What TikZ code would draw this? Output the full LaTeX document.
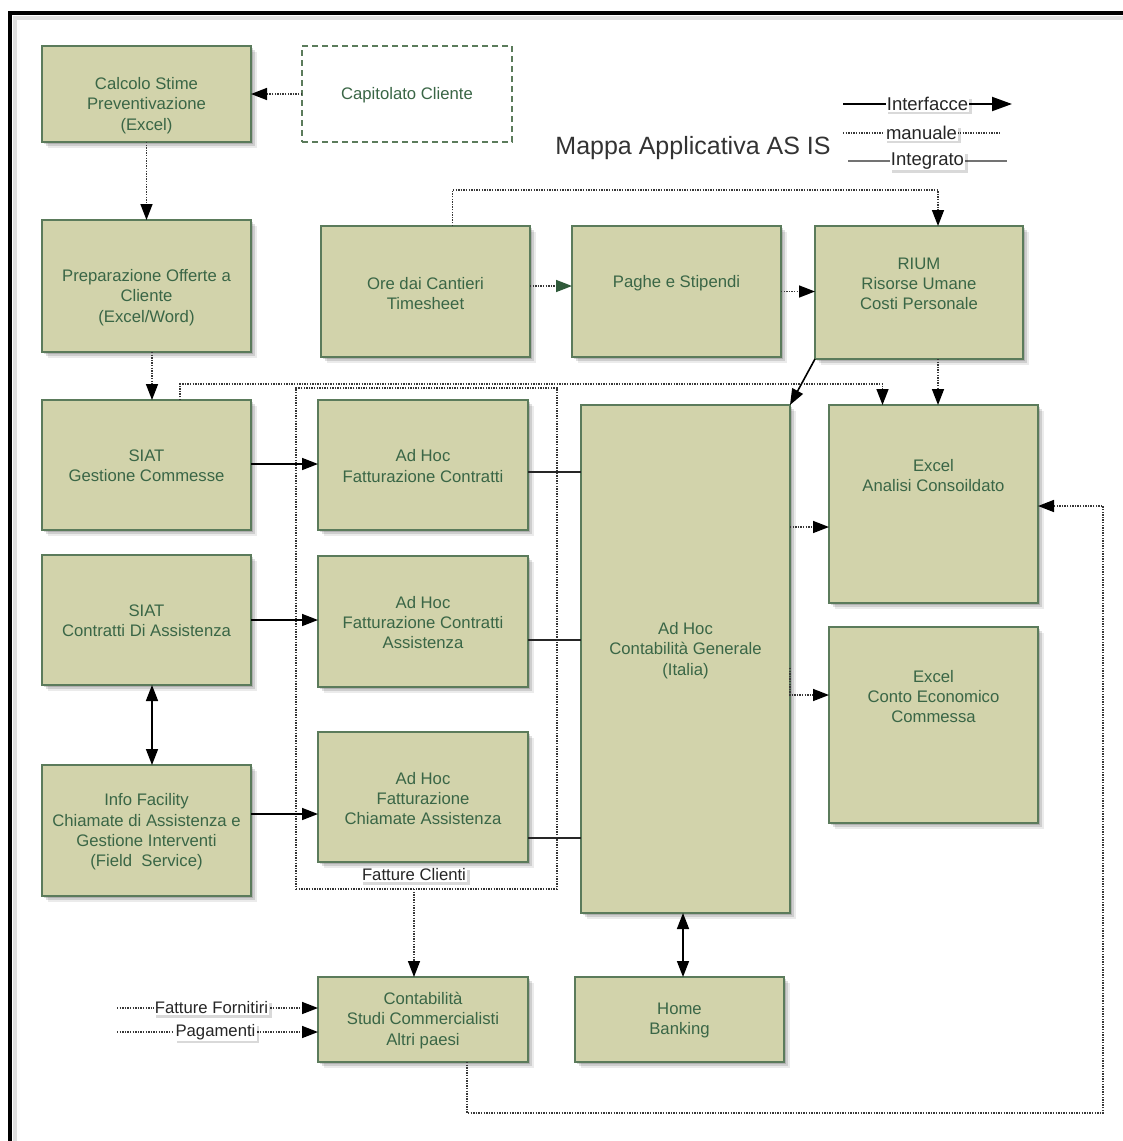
\documentclass[tikz,border=0pt]{standalone}
\usepackage{fontspec}
\setmainfont{Liberation Sans}
\usetikzlibrary{arrows.meta,calc,shadows}

\definecolor{boxfill}{HTML}{D2D3AB}
\definecolor{boxline}{HTML}{5B7B5B}
\definecolor{boxtext}{HTML}{3A6646}
\definecolor{dotgray}{HTML}{383838}
\definecolor{tipgreen}{HTML}{2F5A3A}

\tikzset{
  softshadow/.style={
    drop shadow={shadow xshift=6pt, shadow yshift=-6pt, opacity=0.08, fill=black},
    drop shadow={shadow xshift=4pt, shadow yshift=-4pt, opacity=0.12, fill=black},
    drop shadow={shadow xshift=2pt, shadow yshift=-2pt, opacity=0.15, fill=black}},
  appbox/.style={draw=boxline, line width=1.3pt, fill=boxfill, rectangle,
    inner sep=0pt, outer sep=0pt, softshadow},
  openbox/.style={draw=boxline, line width=1.3pt, dash pattern=on 6pt off 4pt,
    rectangle, inner sep=0pt, outer sep=0pt},
  boxlabel/.style={text=boxtext, align=center, inner sep=0pt, yshift=-2.5pt,
    font=\fontsize{16.7}{20.3}\selectfont},
  tip/.style={-{Triangle[length=16pt,width=12pt,color=black]}},
  twotip/.style={{Triangle[length=16pt,width=12pt,color=black]}-{Triangle[length=16pt,width=12pt,color=black]}},
  manual/.style={draw=dotgray, line width=1.5pt, dash pattern=on 1.4pt off 1.2pt},
  iface/.style={draw=black, line width=1.6pt},
  integr/.style={draw=black!85, line width=1.1pt},
  tag/.style={fill=white, text=black!85, inner sep=1.2pt,
    font=\fontsize{16.7}{19}\selectfont,
    drop shadow={shadow xshift=2.5pt, shadow yshift=-2.5pt, opacity=0.15, fill=black}},
  legtag/.style={tag, font=\fontsize{18.5}{21}\selectfont},
  group/.style={draw=black!80, line width=1.4pt, dash pattern=on 1.4pt off 1.2pt,
    rectangle, inner sep=0pt, outer sep=0pt},
}

% box with its caption: name, centre x, centre y, width, height, caption y, caption
\newcommand\appnode[7]{%
  \node[appbox, minimum width=#4pt, minimum height=#5pt] (#1) at (#2,#3) {};
  \node[boxlabel] (#1t) at (#2,#6) {#7};
}

\begin{document}
\begin{tikzpicture}[x=1pt, y=-1pt]
  \useasboundingbox (0,0) rectangle (1123,1141);
  \fill[white] (0,0) rectangle (1123,1141);

  % outer frame
  \draw[black!12, line width=4pt] (15,1145) -- (15,18) -- (1130,18);
  \draw[black, line width=4pt] (10,1150) -- (10,13) -- (1135,13);

  % title
  \node[text=black!80, font=\fontsize{25}{30}\selectfont, inner sep=0pt] (title)
    at (693,148) {Mappa Applicativa AS IS};

  % legend
  \coordinate (la) at (843,104);  \coordinate (lb) at (1012,104);
  \coordinate (lc) at (843,133);  \coordinate (ld) at (1000,133);
  \coordinate (le) at (848,161);  \coordinate (lf) at (1007,161);
  \draw[iface, line width=2pt, -{Triangle[length=20pt,width=14pt]}] (la) -- (lb)
    node[legtag, pos=0.5] (lgi) {Interfacce};
  \draw[manual] (lc) -- (ld) node[legtag, pos=0.5] (lgm) {manuale};
  \draw[black!55, line width=1.2pt] (le) -- (lf) node[legtag, pos=0.5] (lgn) {Integrato};

  % customer invoices group
  \node[group, minimum width=261pt, minimum height=501pt] (grp) at (426.5,638.5) {};

  % application boxes
  \appnode{calc}{146.5}{94}{209}{96}{103}{Calcolo Stime\\Preventivazione\\(Excel)}
  \node[openbox, minimum width=210pt, minimum height=96pt] (capi) at (407,94) {};
  \node[boxlabel] (capit) at (407,93) {Capitolato Cliente};
  \appnode{prep}{146.5}{286}{209}{132}{295}{Preparazione Offerte a\\Cliente\\(Excel/Word)}
  \appnode{ore}{425.5}{291.5}{209}{131}{291}{Ore dai Cantieri\\Timesheet}
  \appnode{paghe}{676.5}{291.5}{209}{131}{281}{Paghe e Stipendi}
  \appnode{rium}{919}{292.5}{208}{133}{281.5}{RIUM\\Risorse Umane\\Costi Personale}
  \appnode{siatg}{146.5}{465}{209}{130}{463.5}{SIAT\\Gestione Commesse}
  \appnode{fcon}{423}{465}{210}{130}{463.5}{Ad Hoc\\Fatturazione Contratti}
  \appnode{coge}{685.5}{659}{209}{508}{648}{Ad Hoc\\Contabilità Generale\\(Italia)}
  \appnode{xan}{933.5}{504}{209}{198}{473}{Excel\\Analisi Consoildato}
  \appnode{siatc}{146.5}{620}{209}{130}{618}{SIAT\\Contratti Di Assistenza}
  \appnode{fass}{423}{621.5}{210}{131}{620}{Ad Hoc\\Fatturazione Contratti\\Assistenza}
  \appnode{xce}{933.5}{725}{209}{196}{694}{Excel\\Conto Economico\\Commessa}
  \appnode{info}{146.5}{830.5}{209}{131}{829.5}{Info Facility\\Chiamate di Assistenza e\\Gestione Interventi\\(Field~~Service)}
  \appnode{fchi}{423}{797}{210}{130}{796}{Ad Hoc\\Fatturazione\\Chiamate Assistenza}
  \appnode{studi}{423}{1019.5}{210}{85}{1018}{Contabilità\\Studi Commercialisti\\Altri paesi}
  \appnode{bank}{679.5}{1019.5}{209}{85}{1018}{Home\\Banking}

  \node[tag, drop shadow={opacity=0}] (grpt) at (414,875) {Fatture Clienti};

  % manual flows
  \draw[manual, tip] (capi.west) -- (calc.east);
  \draw[manual, tip] (calc.south) -- (prep.north);
  \coordinate (p1) at ($(prep.south)+(5.5,0)$);
  \draw[manual, tip] (p1) -- (p1 |- siatg.north);
  \coordinate (o1) at ($(ore.north)+(27,0)$);
  \coordinate (r1) at ($(rium.north)+(19,0)$);
  \draw[manual, tip] (o1) -- ++(0,-36) -| (r1);
  \coordinate (o2) at ($(ore.east)+(0,-5.5)$);
  \draw[manual, -{Triangle[length=16pt,width=12pt,color=tipgreen]}]
    (o2) -- (o2 -| paghe.west);
  \draw[manual, tip] (paghe.east) -- (paghe.east -| rium.west);
  \coordinate (r2) at ($(rium.south)+(19,0)$);
  \draw[manual, tip] (r2) -- (r2 |- xan.north);
  \coordinate (s1) at ($(siatg.north)+(33.5,0)$);
  \coordinate (x1) at ($(xan.north)+(-51,0)$);
  \draw[manual, tip] (s1) -- ++(0,-16) -| (x1);
  \coordinate (x2) at ($(xan.west)+(0,23)$);
  \draw[manual, tip] (x2 -| coge.east) -- (x2);
  \coordinate (c1) at ($(coge.east)+(0,9)$);
  \coordinate (x3) at ($(xce.west)+(0,-30)$);
  \draw[manual, tip] (c1) |- (x3);
  \coordinate (g1) at ($(grp.south)+(-12.5,0)$);
  \draw[manual, tip] (g1) -- (g1 |- studi.north);
  \coordinate (st1) at ($(studi.south)+(44,0)$);
  \coordinate (x4) at ($(xan.east)+(0,2)$);
  \draw[manual, tip] (st1) -- ++(0,51) -- ++(636,0) |- (x4);

  % supplier invoices and payments
  \coordinate (ff) at (117,1008);
  \coordinate (pg) at (117,1032);
  \draw[manual, tip] (ff) -- (ff -| studi.west) node[tag, pos=0.47] (fft) {Fatture Fornitiri};
  \draw[manual, tip] (pg) -- (pg -| studi.west) node[tag, pos=0.49] (pgt) {Pagamenti};

  % interfaces
  \draw[iface, tip] (rium.south west) -- (coge.north east);
  \coordinate (sg) at ($(siatg.east)+(0,-1)$);
  \draw[iface, tip] (sg) -- (sg -| fcon.west);
  \draw[iface, tip] (siatc.east) -- (siatc.east -| fass.west);
  \coordinate (sc) at ($(siatc.south)+(5.5,0)$);
  \draw[iface, twotip] (sc) -- (sc |- info.north);
  \coordinate (if) at ($(info.east)+(0,-16.5)$);
  \draw[iface, tip] (if) -- (if -| fchi.west);
  \coordinate (cb) at ($(coge.south)+(-2.5,0)$);
  \draw[iface, twotip] (cb) -- (cb |- bank.north);

  % integrated links
  \coordinate (i1) at ($(fcon.east)+(0,7)$);
  \draw[integr] (i1) -- (i1 -| coge.west);
  \coordinate (i2) at ($(fass.east)+(0,18.5)$);
  \draw[integr] (i2) -- (i2 -| coge.west);
  \coordinate (i3) at ($(fchi.east)+(0,41)$);
  \draw[integr] (i3) -- (i3 -| coge.west);
\end{tikzpicture}
\end{document}
